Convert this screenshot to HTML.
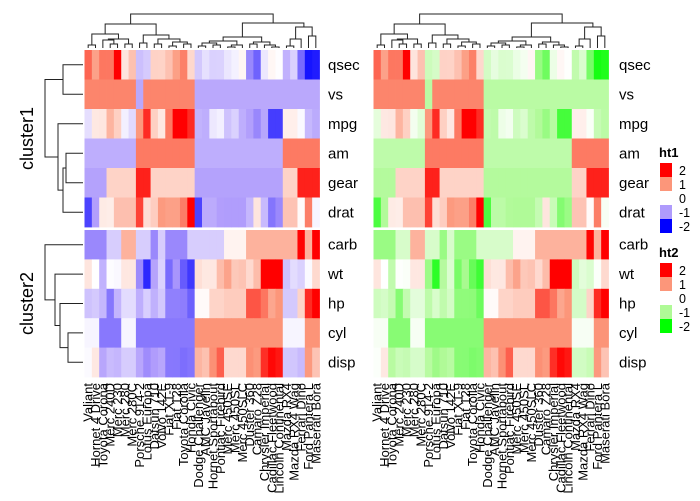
<!DOCTYPE html>
<html><head><meta charset="utf-8"><style>
body{margin:0;background:#fff;width:700px;height:501px;overflow:hidden}
svg{display:block;font-family:"Liberation Sans",Arial,sans-serif}
</style></head><body>
<svg id="chart" width="700" height="501" viewBox="0 0 700 501"></svg>
<script>
const cars=["Valiant","Hornet 4 Drive","Toyota Corona","Merc 240D","Merc 230","Merc 280","Merc 280C","Porsche 914-2","Lotus Europa","Datsun 710","Volvo 142E","Fiat X1-9","Fiat 128","Toyota Corolla","Honda Civic","Dodge Challenger","AMC Javelin","Hornet Sportabout","Pontiac Firebird","Merc 450SE","Merc 450SL","Merc 450SLC","Duster 360","Camaro Z28","Chrysler Imperial","Cadillac Fleetwood","Lincoln Continental","Mazda RX4","Mazda RX4 Wag","Ferrari Dino","Ford Pantera L","Maserati Bora"];
const mpg=[18.1,21.4,21.5,24.4,22.8,19.2,17.8,26,30.4,22.8,21.4,27.3,32.4,33.9,30.4,15.5,15.2,18.7,19.2,16.4,17.3,15.2,14.3,13.3,14.7,10.4,10.4,21,21,19.7,15.8,15];
const cyl=[6,6,4,4,4,6,6,4,4,4,4,4,4,4,4,8,8,8,8,8,8,8,8,8,8,8,8,6,6,6,8,8];
const disp=[225,258,120.1,146.7,140.8,167.6,167.6,120.3,95.1,108,121,79,78.7,71.1,75.7,318,304,360,400,275.8,275.8,275.8,360,350,440,472,460,160,160,145,351,301];
const hp=[105,110,97,62,95,123,123,91,113,93,109,66,66,65,52,150,150,175,175,180,180,180,245,245,230,205,215,110,110,175,264,335];
const drat=[2.76,3.08,3.70,3.69,3.92,3.92,3.92,4.43,3.77,3.85,4.11,4.08,4.08,4.22,4.93,2.76,3.15,3.15,3.08,3.07,3.07,3.07,3.21,3.73,3.23,2.93,3.00,3.90,3.90,3.62,4.22,3.54];
const wt=[3.46,3.215,2.465,3.19,3.15,3.44,3.44,2.14,1.513,2.32,2.78,1.935,2.2,1.835,1.615,3.52,3.435,3.44,3.845,4.07,3.73,3.78,3.57,3.84,5.345,5.25,5.424,2.62,2.875,2.77,3.17,3.57];
const qsec=[20.22,19.44,20.01,20,22.9,18.3,18.9,16.7,16.9,18.61,18.6,18.9,19.47,19.9,18.52,16.87,17.3,17.02,17.05,17.4,17.6,18,15.84,15.41,17.42,17.98,17.82,16.46,17.02,15.5,14.5,14.6];
const vs=[1,1,1,1,1,1,1,0,1,1,1,1,1,1,1,0,0,0,0,0,0,0,0,0,0,0,0,0,0,0,0,0];
const am=[0,0,0,0,0,0,0,1,1,1,1,1,1,1,1,0,0,0,0,0,0,0,0,0,0,0,0,1,1,1,1,1];
const gear=[3,3,3,4,4,4,4,5,5,4,4,4,4,4,4,3,3,3,3,3,3,3,3,3,3,3,3,4,4,5,5,5];
const carb=[1,1,1,2,2,4,4,2,2,1,2,1,1,1,2,2,2,2,2,3,3,3,4,4,4,4,4,4,4,6,4,8];
const rows1=["qsec","vs","mpg","am","gear","drat"];
const rows2=["carb","wt","hp","cyl","disp"];
const legendTicks=[2,1,0,-1,-2];
// dendrogram trees: [left,right,height]
const colTree=[[[[0,1,3],[[2,[3,4,4],8],[5,6,4],9],14],[[7,8,5],[[9,10,4],[[11,12,2],[13,14,4],6],9],13],24],[[[[[15,16,2],[17,18,3],5],[[19,20,1],21,3],7],[[22,23,4],[24,[25,26,1],3],6],11],[[[27,28,2],29,9],[30,31,12],21],25],34];
const rowTree1=[[0,1,20],[2,[[3,4,17],5,20],25],38];
const rowTree2=[0,[1,[2,[3,4,15],23],28],38];

const vars={mpg,cyl,disp,hp,drat,wt,qsec,vs,am,gear,carb};
function z(a){const n=a.length,m=a.reduce((s,v)=>s+v,0)/n;const sd=Math.sqrt(a.reduce((s,v)=>s+(v-m)*(v-m),0)/(n-1));return a.map(v=>(v-m)/sd);}
const NS="http://www.w3.org/2000/svg";const svg=document.getElementById('chart');
function mk(t,a,p){const e=document.createElementNS(NS,t);for(const k in a)e.setAttribute(k,a[k]);(p||svg).appendChild(e);return e;}
function lerp(a,b,t){return a.map((v,i)=>Math.round(v+(b[i]-v)*t));}
const pal1=[[0,0,255],[175,155,252],[255,255,255],[252,150,122],[255,0,0]];
const pal2=[[0,255,0],[175,250,150],[255,255,255],[252,150,122],[255,0,0]];
function col(v,p){v=Math.max(-2,Math.min(2,v))+2;const i=Math.min(3,Math.floor(v));const c=lerp(p[i],p[i+1],v-i);return `rgb(${c[0]},${c[1]},${c[2]})`;}
const n=cars.length,T1=50,H1=177,T2=230,H2=147,LEAFY=48,DY=34;
function drawTree(tree,pos,val,g,horiz){
  function rec(node){if(typeof node==='number')return{p:pos(node),h:0};
    const a=rec(node[0]),b=rec(node[1]),h=node[2];
    const d=horiz?`M${val(a.h)},${a.p}H${val(h)}V${b.p}H${val(b.h)}`:`M${a.p},${val(a.h)}V${val(h)}H${b.p}V${val(b.h)}`;
    const pth=mk('path',{d,fill:'none',stroke:'#222','stroke-width':1},g);
    
    
    return{p:(a.p+b.p)/2,h};}
  rec(tree);}
function heat(X0,W,pal,name,labX){
  const cw=W/n;
  const g=mk('g',{});
  
  
  const groups=[[rows1,T1,H1],[rows2,T2,H2]];
  groups.forEach(([rows,top,hh])=>{const rh=hh/rows.length;
    rows.forEach((r,ri)=>{const zz=z(vars[r]);
      zz.forEach((v,ci)=>{const c=mk('rect',{x:X0+ci*cw,y:top+ri*rh,width:cw+0.4,height:rh+0.4,fill:col(v,pal)},g);
        
        });
      const t=mk('text',{x:labX,y:top+ri*rh+rh/2+5,'font-size':15,fill:'#000'},g);t.textContent=r;
      
      });});
  cars.forEach((c,ci)=>{const x=X0+ci*cw+cw/2+4.5;const t=mk('text',{x:x,y:383,'font-size':13,'text-anchor':'end',transform:`rotate(-90 ${x} 383)`,fill:'#000'},g);t.textContent=c;
    
    });
  const dg=mk('g',{},g);
  
  
  drawTree(colTree,i=>X0+i*cw+cw/2,h=>LEAFY-h*DY/34,dg,false);
}
heat(84.5,235,pal1,'heatmap-ht1',328);
heat(373.5,235,pal2,'heatmap-ht2',619);
const rg=mk('g',{});


drawTree(rowTree1,i=>T1+(i+0.5)*H1/6,h=>83-h,rg,true);
drawTree(rowTree2,i=>T2+(i+0.5)*H2/5,h=>83-h,rg,true);
[["cluster1",T1+H1/2],["cluster2",T2+H2/2]].forEach(([s,y])=>{const t=mk('text',{x:33,y:y,'font-size':18,'text-anchor':'middle',transform:`rotate(-90 33 ${y})`},svg);t.textContent=s;
  
  });
[["ht1",pal1,157],["ht2",pal2,257]].forEach(([nm,pal,y0])=>{
  const g=mk('g',{});
  
  
  const t=mk('text',{x:659,y:y0,'font-size':13,'font-weight':'bold'},g);t.textContent=nm;
  legendTicks.forEach((v,i)=>{const r=mk('rect',{x:660,y:y0+6+i*14,width:12,height:14,fill:col(v,pal)},g);
    
    
    const l=mk('text',{x:679,y:y0+18+i*14,'font-size':12.5},g);l.textContent=v;
    
    });
});
</script>
</body></html>
